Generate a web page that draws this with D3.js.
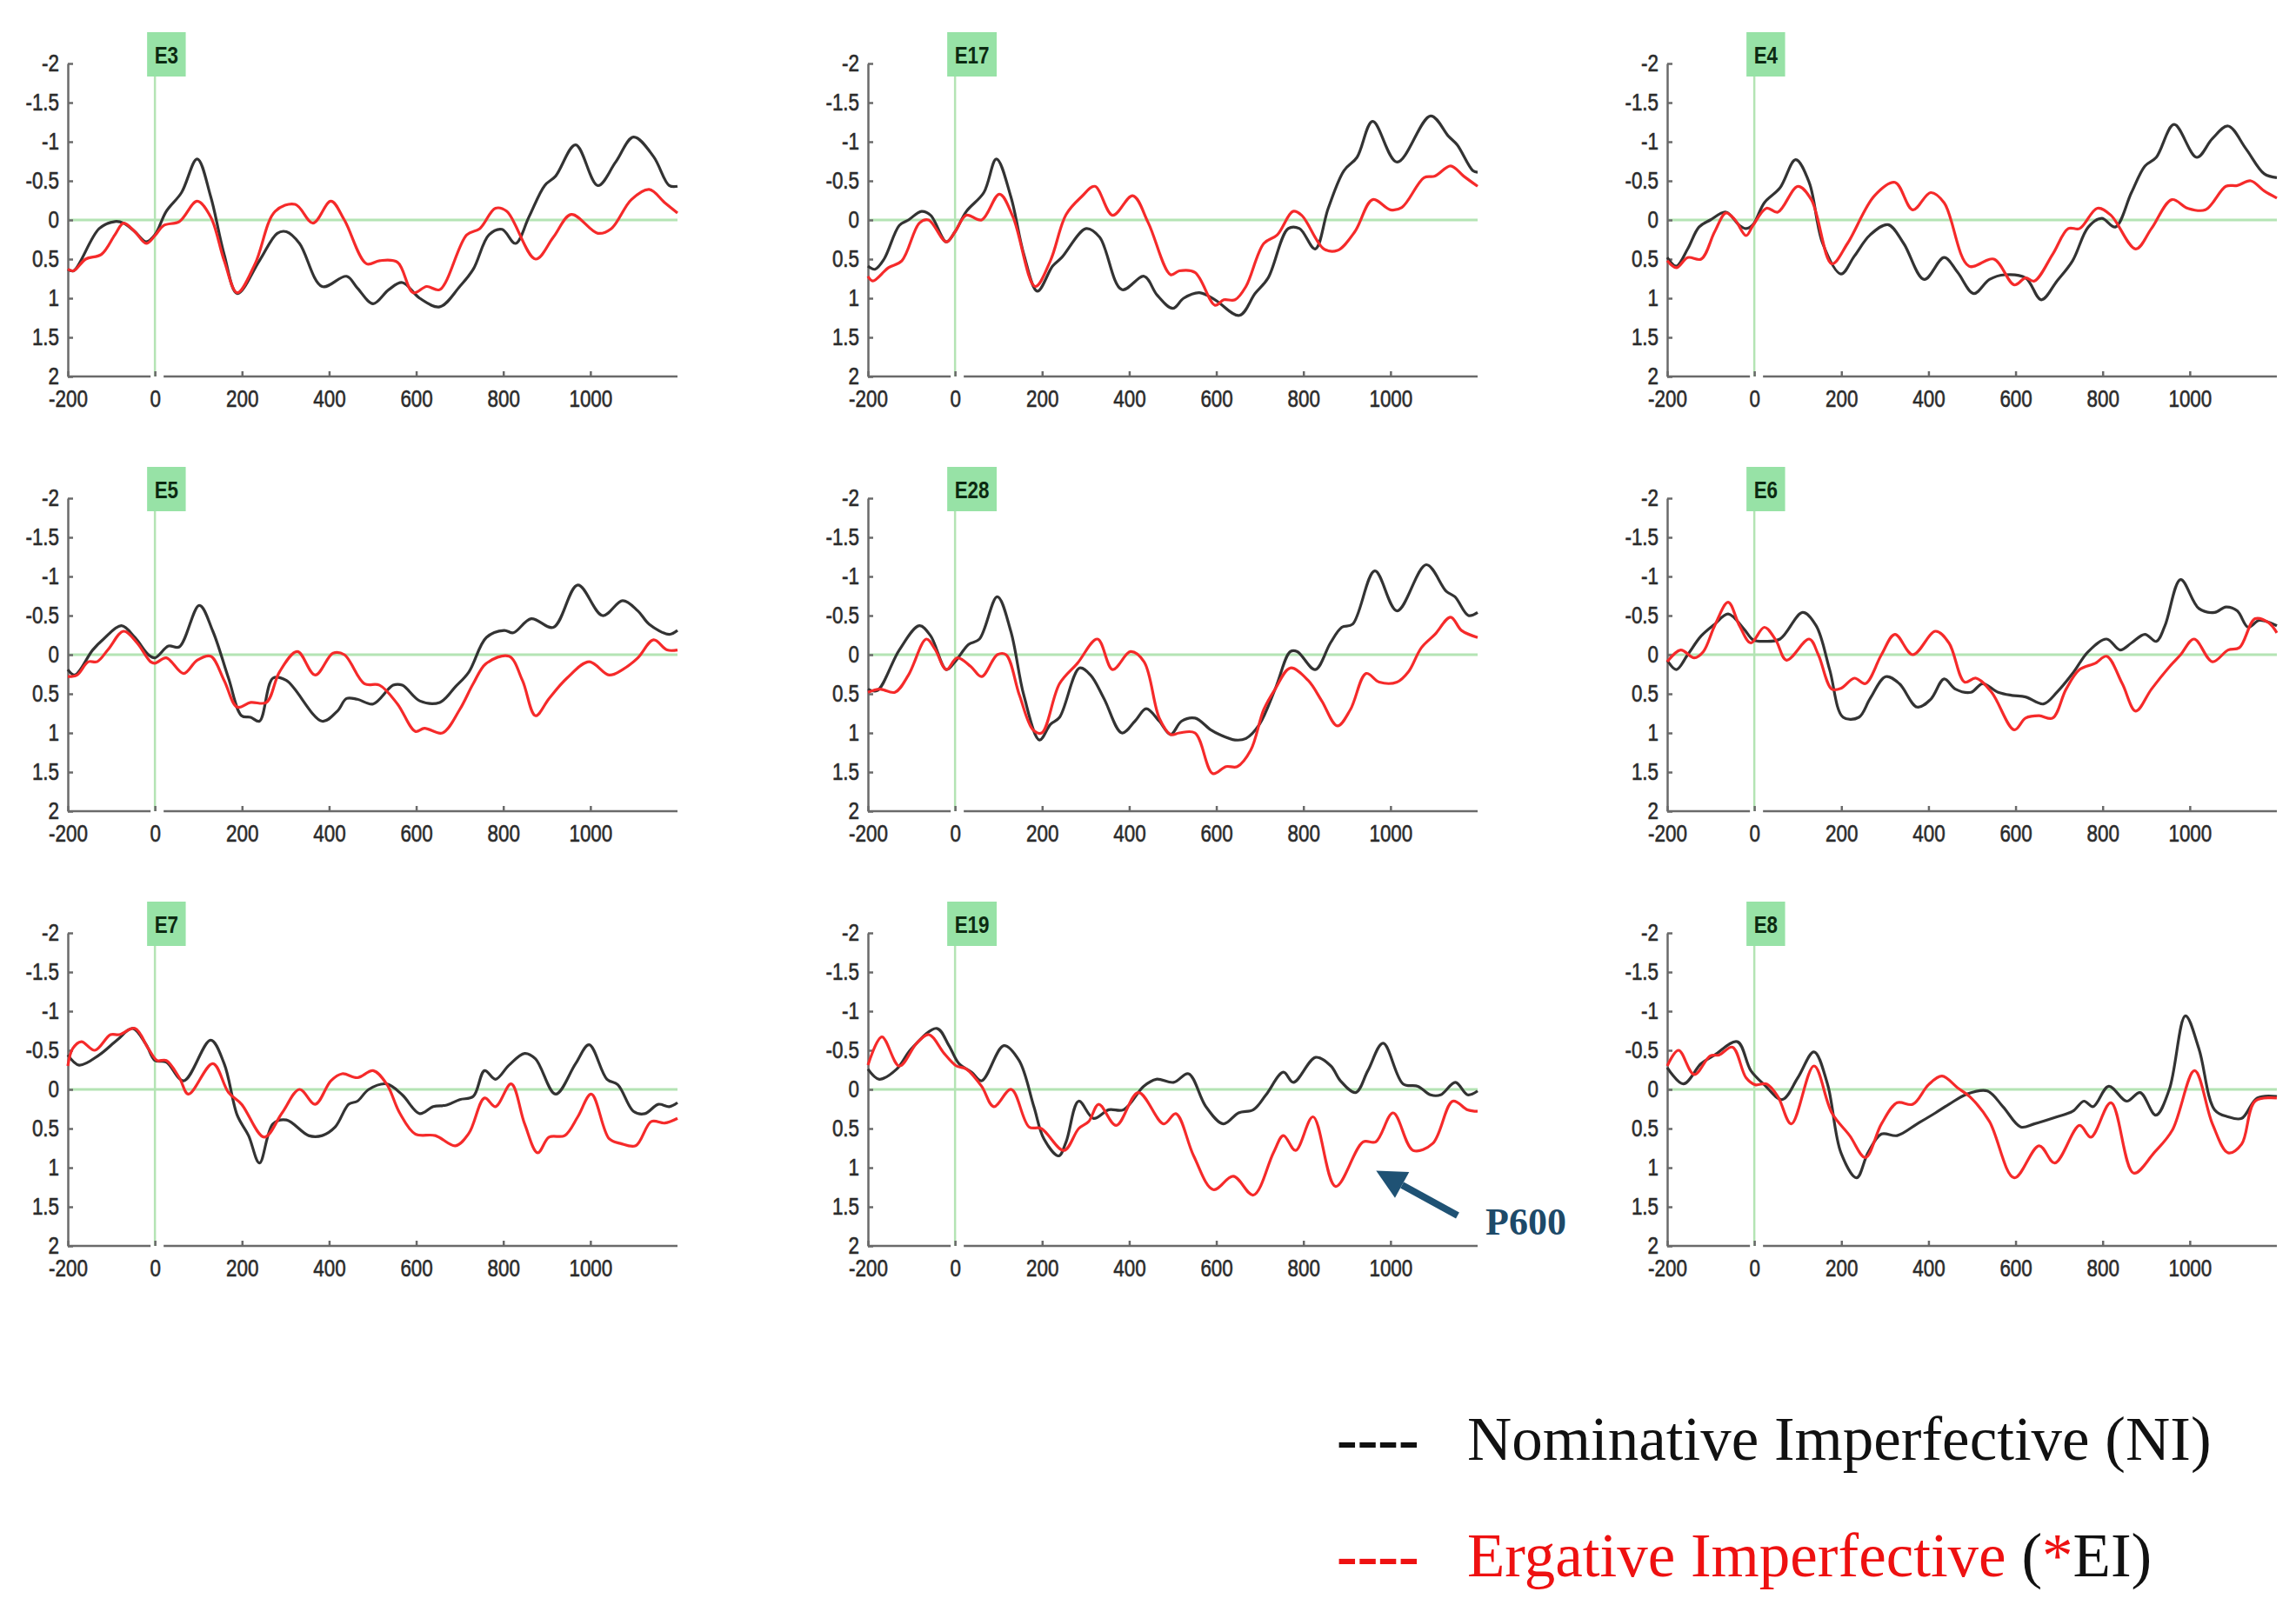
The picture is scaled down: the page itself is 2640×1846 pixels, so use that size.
<!DOCTYPE html>
<html>
<head>
<meta charset="utf-8">
<script src="https://cdn.jsdelivr.net/npm/d3@7"></script>
<style>
  html, body { margin: 0; padding: 0; background: #ffffff; }
  svg { display: block; }
</style>
</head>
<body>
<svg id="chart" width="2640" height="1846"></svg>
<script>
// ---------------- DATA ----------------
const panelNames = ["E3", "E17", "E4", "E5", "E28", "E6", "E7", "E19", "E8"];
const xTicks = [-200, 0, 200, 400, 600, 800, 1000];
const yTicks = [-2, -1.5, -1, -0.5, 0, 0.5, 1, 1.5, 2];
const seriesNames = ["Nominative Imperfective (NI)", "Ergative Imperfective (*EI)"];

// [time ms, amplitude µV] — Nominative Imperfective (NI), black
const NI_E3 = [[-200,0.63],[-187,0.65],[-128,0.11],[-92,0.02],[-72,0.04],[-46,0.15],[-20,0.28],[0,0.19],[26,-0.11],[61,-0.35],[97,-0.78],[128,-0.30],[159,0.44],[189,0.94],[240,0.52],[281,0.17],[302,0.15],[332,0.30],[384,0.85],[440,0.72],[465,0.87],[501,1.07],[537,0.89],[568,0.80],[608,1.0],[654,1.11],[700,0.85],[731,0.63],[767,0.19],[797,0.12],[828,0.30],[859,-0.04],[895,-0.44],[920,-0.56],[966,-0.96],[1017,-0.44],[1058,-0.74],[1099,-1.06],[1145,-0.81],[1181,-0.44],[1200,-0.43]];
const NI_E17 = [[-200,0.59],[-184,0.63],[-163,0.50],[-128,0.07],[-107,0.0],[-77,-0.11],[-56,-0.06],[-20,0.28],[0,0.15],[26,-0.11],[66,-0.35],[95,-0.78],[128,-0.30],[158,0.44],[189,0.91],[224,0.59],[245,0.48],[301,0.11],[332,0.22],[383,0.89],[434,0.72],[464,0.96],[500,1.13],[525,1.0],[561,0.93],[597,1.02],[653,1.22],[689,0.94],[719,0.74],[765,0.11],[791,0.11],[827,0.37],[857,-0.15],[893,-0.63],[923,-0.80],[959,-1.26],[1015,-0.74],[1092,-1.33],[1133,-1.07],[1153,-0.96],[1189,-0.63],[1200,-0.61]];
const NI_E4 = [[-200,0.48],[-179,0.59],[-153,0.37],[-127,0.09],[-101,0.0],[-65,-0.10],[-34,0.07],[-19,0.11],[-3,0.06],[23,-0.22],[59,-0.41],[95,-0.77],[126,-0.48],[157,0.30],[199,0.69],[230,0.46],[266,0.19],[307,0.06],[343,0.30],[390,0.76],[436,0.48],[467,0.67],[504,0.94],[540,0.76],[576,0.70],[623,0.74],[659,1.02],[695,0.78],[731,0.52],[767,0.09],[798,-0.02],[829,0.09],[866,-0.35],[897,-0.69],[923,-0.80],[964,-1.22],[1016,-0.80],[1052,-1.04],[1088,-1.20],[1129,-0.91],[1171,-0.59],[1200,-0.54]];
const NI_E5 = [[-200,0.19],[-184,0.26],[-143,-0.06],[-118,-0.20],[-77,-0.37],[-46,-0.22],[-15,0.0],[0,0.04],[31,-0.11],[56,-0.10],[102,-0.63],[133,-0.30],[169,0.30],[199,0.78],[220,0.80],[240,0.85],[271,0.30],[302,0.33],[384,0.85],[419,0.72],[440,0.56],[465,0.57],[501,0.63],[547,0.39],[568,0.39],[608,0.59],[654,0.61],[690,0.41],[721,0.22],[761,-0.22],[802,-0.31],[823,-0.28],[864,-0.46],[915,-0.35],[971,-0.89],[1028,-0.50],[1074,-0.69],[1109,-0.56],[1135,-0.39],[1181,-0.26],[1200,-0.31]];
const NI_E28 = [[-200,0.44],[-179,0.46],[-128,-0.06],[-82,-0.37],[-56,-0.24],[-20,0.19],[0,0.09],[31,-0.13],[56,-0.20],[97,-0.74],[128,-0.30],[158,0.52],[194,1.09],[219,0.89],[240,0.80],[286,0.17],[311,0.26],[342,0.56],[383,1.0],[413,0.85],[439,0.69],[469,0.85],[495,1.02],[520,0.85],[551,0.81],[587,0.96],[607,1.02],[643,1.09],[668,1.07],[699,0.89],[735,0.44],[770,-0.04],[786,-0.04],[827,0.19],[862,-0.15],[888,-0.35],[913,-0.39],[964,-1.07],[1015,-0.56],[1082,-1.15],[1128,-0.81],[1148,-0.74],[1179,-0.50],[1200,-0.54]];
const NI_E6 = [[-200,0.07],[-179,0.19],[-153,0.0],[-122,-0.24],[-91,-0.39],[-60,-0.52],[-24,-0.33],[-3,-0.19],[23,-0.17],[59,-0.20],[111,-0.54],[142,-0.37],[173,0.19],[204,0.80],[240,0.80],[266,0.56],[302,0.28],[333,0.37],[374,0.67],[405,0.57],[436,0.31],[462,0.44],[498,0.48],[524,0.37],[560,0.48],[592,0.52],[623,0.54],[664,0.63],[695,0.48],[731,0.24],[767,-0.04],[809,-0.20],[840,-0.06],[866,-0.15],[897,-0.26],[923,-0.17],[943,-0.37],[979,-0.96],[1021,-0.59],[1057,-0.54],[1083,-0.61],[1109,-0.56],[1134,-0.35],[1160,-0.44],[1200,-0.37]];
const NI_E7 = [[-200,-0.44],[-174,-0.31],[-128,-0.44],[-87,-0.63],[-51,-0.78],[-20,-0.57],[0,-0.37],[26,-0.35],[66,-0.11],[128,-0.63],[159,-0.33],[189,0.33],[215,0.59],[240,0.94],[271,0.44],[302,0.39],[353,0.59],[384,0.59],[414,0.48],[445,0.19],[465,0.15],[491,0.0],[532,-0.07],[568,0.07],[608,0.31],[639,0.22],[670,0.20],[700,0.13],[731,0.09],[757,-0.24],[782,-0.13],[813,-0.31],[849,-0.46],[874,-0.39],[920,0.06],[966,-0.33],[997,-0.57],[1038,-0.13],[1063,-0.06],[1099,0.28],[1125,0.31],[1156,0.19],[1181,0.22],[1200,0.17]];
const NI_E19 = [[-200,-0.26],[-174,-0.13],[-134,-0.26],[-100,-0.52],[-42,-0.78],[-14,-0.56],[9,-0.33],[38,-0.22],[61,-0.11],[112,-0.56],[147,-0.37],[181,0.22],[204,0.63],[238,0.85],[255,0.67],[284,0.15],[318,0.37],[353,0.26],[387,0.26],[433,-0.04],[462,-0.13],[502,-0.09],[536,-0.20],[576,0.22],[616,0.44],[651,0.30],[685,0.26],[714,0.07],[754,-0.22],[777,-0.09],[828,-0.41],[863,-0.30],[885,-0.11],[920,0.04],[948,-0.24],[983,-0.59],[1029,-0.07],[1063,-0.04],[1092,0.07],[1115,0.07],[1149,-0.09],[1177,0.07],[1200,0.02]];
const NI_E8 = [[-200,-0.28],[-163,-0.07],[-122,-0.33],[-91,-0.44],[-39,-0.61],[-8,-0.24],[23,-0.06],[64,0.13],[100,-0.15],[137,-0.48],[168,-0.07],[199,0.81],[235,1.13],[261,0.81],[292,0.57],[328,0.59],[374,0.44],[416,0.30],[447,0.19],[488,0.06],[535,0.02],[571,0.22],[612,0.48],[643,0.44],[695,0.35],[731,0.28],[757,0.15],[778,0.22],[814,-0.04],[855,0.15],[886,0.04],[922,0.33],[953,0.0],[990,-0.94],[1021,-0.52],[1057,0.26],[1088,0.35],[1119,0.37],[1155,0.11],[1200,0.09]];

// Ergative Imperfective (*EI), red
const EI_E3 = [[-200,0.63],[-187,0.65],[-159,0.50],[-123,0.44],[-92,0.19],[-72,0.04],[-46,0.15],[-20,0.30],[0,0.20],[20,0.07],[56,0.02],[97,-0.24],[128,-0.04],[159,0.52],[189,0.93],[230,0.56],[276,-0.11],[322,-0.20],[363,0.04],[404,-0.24],[435,0.0],[486,0.56],[516,0.52],[557,0.54],[593,0.93],[624,0.85],[654,0.89],[716,0.19],[746,0.11],[782,-0.15],[808,-0.11],[874,0.50],[915,0.22],[956,-0.07],[1017,0.17],[1048,0.11],[1094,-0.26],[1135,-0.39],[1171,-0.22],[1200,-0.09]];
const EI_E17 = [[-200,0.72],[-189,0.78],[-153,0.61],[-122,0.52],[-82,0.04],[-61,0.0],[-20,0.28],[0,0.15],[26,-0.06],[61,0.0],[102,-0.33],[133,-0.04],[184,0.85],[219,0.52],[255,-0.07],[291,-0.30],[321,-0.43],[362,-0.06],[408,-0.31],[444,0.04],[495,0.70],[515,0.65],[551,0.67],[597,1.09],[617,1.02],[643,1.02],[668,0.85],[709,0.30],[740,0.19],[776,-0.11],[796,-0.06],[847,0.37],[878,0.39],[918,0.15],[959,-0.26],[1000,-0.13],[1026,-0.16],[1077,-0.54],[1102,-0.56],[1138,-0.69],[1168,-0.56],[1200,-0.43]];
const EI_E4 = [[-200,0.52],[-179,0.61],[-153,0.48],[-122,0.50],[-91,0.15],[-65,-0.09],[-44,0.0],[-19,0.20],[-3,0.07],[28,-0.15],[54,-0.10],[100,-0.43],[131,-0.26],[178,0.56],[214,0.30],[276,-0.31],[323,-0.48],[364,-0.13],[405,-0.35],[436,-0.22],[493,0.59],[550,0.50],[597,0.83],[623,0.74],[643,0.78],[685,0.44],[721,0.11],[747,0.11],[788,-0.15],[819,-0.06],[876,0.37],[912,0.11],[959,-0.26],[995,-0.15],[1036,-0.13],[1083,-0.43],[1109,-0.44],[1140,-0.50],[1171,-0.37],[1200,-0.28]];
const EI_E5 = [[-200,0.28],[-179,0.26],[-153,0.09],[-133,0.09],[-107,-0.07],[-72,-0.30],[-41,-0.15],[-10,0.09],[0,0.11],[26,0.04],[66,0.24],[97,0.07],[128,0.02],[159,0.33],[189,0.67],[220,0.61],[256,0.61],[286,0.22],[327,-0.04],[368,0.26],[409,-0.02],[435,0.0],[481,0.37],[516,0.39],[557,0.63],[598,0.98],[619,0.94],[660,1.0],[700,0.70],[731,0.37],[761,0.11],[813,0.02],[844,0.33],[874,0.78],[905,0.56],[946,0.30],[997,0.09],[1043,0.26],[1074,0.19],[1109,0.04],[1145,-0.19],[1176,-0.06],[1200,-0.06]];
const EI_E28 = [[-200,0.48],[-173,0.44],[-138,0.48],[-107,0.26],[-66,-0.20],[-46,-0.07],[-20,0.19],[5,0.04],[36,0.15],[61,0.28],[97,0.0],[117,0.0],[148,0.52],[179,0.96],[199,1.0],[240,0.37],[281,0.11],[327,-0.20],[362,0.19],[403,-0.04],[434,0.09],[469,0.81],[495,1.02],[515,1.0],[551,1.0],[592,1.52],[622,1.43],[648,1.43],[679,1.22],[709,0.70],[735,0.44],[770,0.17],[811,0.33],[842,0.59],[878,0.91],[908,0.70],[944,0.24],[974,0.35],[1015,0.35],[1041,0.22],[1071,-0.09],[1102,-0.26],[1138,-0.48],[1163,-0.31],[1200,-0.22]];
const EI_E6 = [[-200,0.09],[-169,-0.06],[-138,0.04],[-117,-0.04],[-91,-0.37],[-60,-0.67],[-34,-0.37],[-8,-0.15],[23,-0.35],[49,-0.19],[74,0.07],[126,-0.20],[147,0.0],[178,0.44],[199,0.43],[230,0.30],[255,0.37],[292,0.0],[323,-0.26],[364,0.0],[416,-0.30],[447,-0.15],[483,0.35],[509,0.30],[545,0.48],[597,0.96],[623,0.81],[654,0.78],[685,0.81],[716,0.44],[747,0.19],[783,0.11],[809,0.02],[845,0.37],[876,0.72],[912,0.44],[954,0.15],[979,0.0],[1010,-0.20],[1052,0.09],[1088,-0.06],[1114,-0.09],[1150,-0.46],[1181,-0.41],[1200,-0.28]];
const EI_E7 = [[-200,-0.30],[-189,-0.52],[-169,-0.61],[-138,-0.50],[-102,-0.70],[-82,-0.70],[-46,-0.78],[-15,-0.52],[5,-0.37],[26,-0.37],[56,-0.15],[77,0.06],[133,-0.33],[169,0.04],[199,0.19],[251,0.61],[292,0.30],[332,0.0],[368,0.19],[404,-0.11],[430,-0.20],[465,-0.15],[501,-0.24],[532,-0.07],[562,0.30],[598,0.57],[644,0.59],[690,0.72],[721,0.56],[757,0.11],[782,0.22],[818,-0.07],[849,0.44],[879,0.81],[905,0.61],[941,0.59],[971,0.35],[1002,0.06],[1043,0.63],[1069,0.69],[1104,0.72],[1140,0.41],[1171,0.43],[1200,0.37]];
const EI_E19 = [[-200,-0.31],[-168,-0.67],[-128,-0.30],[-88,-0.59],[-60,-0.70],[-25,-0.46],[3,-0.30],[26,-0.26],[61,-0.04],[89,0.22],[129,0.0],[170,0.48],[198,0.50],[250,0.78],[284,0.50],[307,0.41],[330,0.19],[370,0.46],[421,0.04],[479,0.44],[507,0.31],[548,0.85],[593,1.28],[639,1.11],[685,1.35],[731,0.81],[754,0.59],[782,0.78],[822,0.35],[874,1.24],[937,0.67],[966,0.67],[1006,0.30],[1052,0.78],[1097,0.69],[1143,0.15],[1177,0.26],[1200,0.28]];
const EI_E8 = [[-200,-0.30],[-174,-0.50],[-138,-0.19],[-101,-0.43],[-81,-0.44],[-50,-0.54],[-19,-0.15],[2,-0.06],[28,-0.07],[54,0.09],[85,0.44],[137,-0.30],[178,0.30],[219,0.59],[255,0.87],[292,0.44],[328,0.17],[364,0.19],[400,-0.06],[431,-0.17],[467,-0.02],[498,0.11],[540,0.41],[597,1.13],[654,0.72],[690,0.94],[747,0.46],[773,0.61],[819,0.17],[871,1.07],[918,0.81],[960,0.52],[1011,-0.24],[1052,0.44],[1088,0.81],[1119,0.70],[1150,0.15],[1200,0.11]];

const NI = [NI_E3, NI_E17, NI_E4, NI_E5, NI_E28, NI_E6, NI_E7, NI_E19, NI_E8];
const EI = [EI_E3, EI_E17, EI_E4, EI_E5, EI_E28, EI_E6, EI_E7, EI_E19, EI_E8];

// P600 annotation (in E19 panel data units)
const p600Label = "P600";
const p600Tip = [967, 1.04];
const p600Tail = [1154, 1.61];
const p600Text = [1218, 1.86];

// ---------------- LAYOUT ----------------
const colLeft = [78, 998, 1917];
const rowTop = [73, 573, 1073];
const plotW = 701, plotH = 360;
const NI_COLOR = "#333333", EI_COLOR = "#f52a2a";
const GREEN_LINE = "#b4e4b4", BOX_FILL = "#97e2a6";
const AXIS_COLOR = "#6a6a6a";
const LABEL_COLOR = "#2b2b2b";
const SANS = "'Liberation Sans', Arial, Helvetica, sans-serif";
const SERIF = "'Liberation Serif', 'Times New Roman', Times, serif";
const SQ = 0.83; // horizontal condensing of panel text

const svg = d3.select("#chart");
const x = d3.scaleLinear().domain([-200, 1200]).range([0, plotW]);
const y = d3.scaleLinear().domain([-2, 2]).range([0, plotH]);
const line = d3.line().x(d => x(d[0])).y(d => y(d[1])).curve(d3.curveCatmullRom.alpha(0.5));

panelNames.forEach((name, i) => {
  const col = i % 3, row = Math.floor(i / 3);
  const g = svg.append("g").attr("transform", `translate(${colLeft[col]},${rowTop[row]})`);

  // zero lines (green)
  g.append("line").attr("x1", x(-200)).attr("x2", x(1200)).attr("y1", y(0)).attr("y2", y(0))
    .attr("stroke", GREEN_LINE).attr("stroke-width", 3);
  g.append("line").attr("x1", x(0)).attr("x2", x(0)).attr("y1", -30).attr("y2", y(2))
    .attr("stroke", GREEN_LINE).attr("stroke-width", 2.5);

  // y axis
  const ya = g.append("g").call(
    d3.axisLeft(y).tickValues(yTicks).tickFormat(d => String(d))
      .tickSizeInner(-6).tickSizeOuter(0).tickPadding(12));
  ya.select(".domain").attr("stroke", AXIS_COLOR).attr("stroke-width", 2.5);
  ya.selectAll(".tick line").attr("stroke", AXIS_COLOR).attr("stroke-width", 2.5);
  ya.selectAll(".tick text").attr("font-family", SANS).attr("font-size", 27).attr("fill", LABEL_COLOR)
    .attr("stroke", LABEL_COLOR).attr("stroke-width", 0.6)
    .attr("transform", `scale(${SQ},1)`);

  // x axis (domain drawn in two segments, broken around 0)
  const xa = g.append("g").attr("transform", `translate(0,${plotH})`).call(
    d3.axisBottom(x).tickValues(xTicks).tickFormat(d => String(d))
      .tickSizeInner(-6).tickSizeOuter(0).tickPadding(16));
  xa.select(".domain").remove();
  xa.selectAll(".tick line").attr("stroke", AXIS_COLOR).attr("stroke-width", 2.5);
  xa.selectAll(".tick text").attr("font-family", SANS).attr("font-size", 27).attr("fill", LABEL_COLOR)
    .attr("stroke", LABEL_COLOR).attr("stroke-width", 0.6)
    .attr("transform", `scale(${SQ},1)`);
  [[-200, -10], [20, 1200]].forEach(seg => {
    xa.append("line").attr("x1", x(seg[0])).attr("x2", x(seg[1])).attr("y1", 0).attr("y2", 0)
      .attr("stroke", AXIS_COLOR).attr("stroke-width", 2.5);
  });

  // series
  g.append("path").datum(NI[i]).attr("d", line).attr("fill", "none")
    .attr("stroke", NI_COLOR).attr("stroke-width", 3.2).attr("stroke-linejoin", "round");
  g.append("path").datum(EI[i]).attr("d", line).attr("fill", "none")
    .attr("stroke", EI_COLOR).attr("stroke-width", 3.2).attr("stroke-linejoin", "round");

  // electrode label box
  const lb = g.append("g").attr("transform", `translate(${x(0) - 9},-36)`);
  const rect = lb.append("rect").attr("y", 0).attr("height", 51).attr("fill", BOX_FILL);
  const txt = lb.append("text").text(name).attr("font-family", SANS).attr("font-weight", "bold")
    .attr("font-size", 27).attr("fill", "#0c2a12").attr("text-anchor", "middle");
  const tw = txt.node().getComputedTextLength() * SQ;
  const bw = tw + 17;
  rect.attr("width", bw);
  txt.attr("transform", `translate(${bw / 2},36) scale(${SQ},1)`);

  // P600 annotation on E19
  if (name === "E19") {
    const x1 = x(p600Tail[0]), y1 = y(p600Tail[1]);
    const x2 = x(p600Tip[0]), y2 = y(p600Tip[1]);
    const ang = Math.atan2(y2 - y1, x2 - x1);
    const headLen = 34, headHalf = 17;
    const bx = x2 - headLen * Math.cos(ang), by = y2 - headLen * Math.sin(ang);
    g.append("line").attr("x1", x1).attr("y1", y1).attr("x2", bx).attr("y2", by)
      .attr("stroke", "#1f5274").attr("stroke-width", 8);
    const px = -Math.sin(ang), py = Math.cos(ang);
    g.append("path").attr("d",
      `M${x2},${y2}L${bx + px * headHalf},${by + py * headHalf}L${bx - px * headHalf},${by - py * headHalf}Z`)
      .attr("fill", "#1f5274");
    g.append("text").text(p600Label).attr("x", x(p600Text[0])).attr("y", y(p600Text[1]))
      .attr("font-family", SERIF).attr("font-weight", "bold").attr("font-size", 44).attr("fill", "#1d4a69");
  }
});

// ---------------- LEGEND ----------------
const legend = svg.append("g").attr("font-family", SERIF).attr("font-size", 71);
const l1 = legend.append("g");
l1.append("text").attr("x", 1537).attr("y", 1679).attr("font-weight", "bold").attr("fill", "#111").text("----");
l1.append("text").attr("x", 1687).attr("y", 1679).attr("fill", "#111").text(seriesNames[0]);
const l2 = legend.append("g");
l2.append("text").attr("x", 1537).attr("y", 1813).attr("font-weight", "bold").attr("fill", "#ee1111").text("----");
const t2 = l2.append("text").attr("x", 1687).attr("y", 1813);
t2.append("tspan").attr("fill", "#ee1111").text("Ergative Imperfective");
t2.append("tspan").attr("fill", "#111").text(" (");
t2.append("tspan").attr("fill", "#ee1111").text("*");
t2.append("tspan").attr("fill", "#111").text("EI)");
</script>
</body>
</html>
